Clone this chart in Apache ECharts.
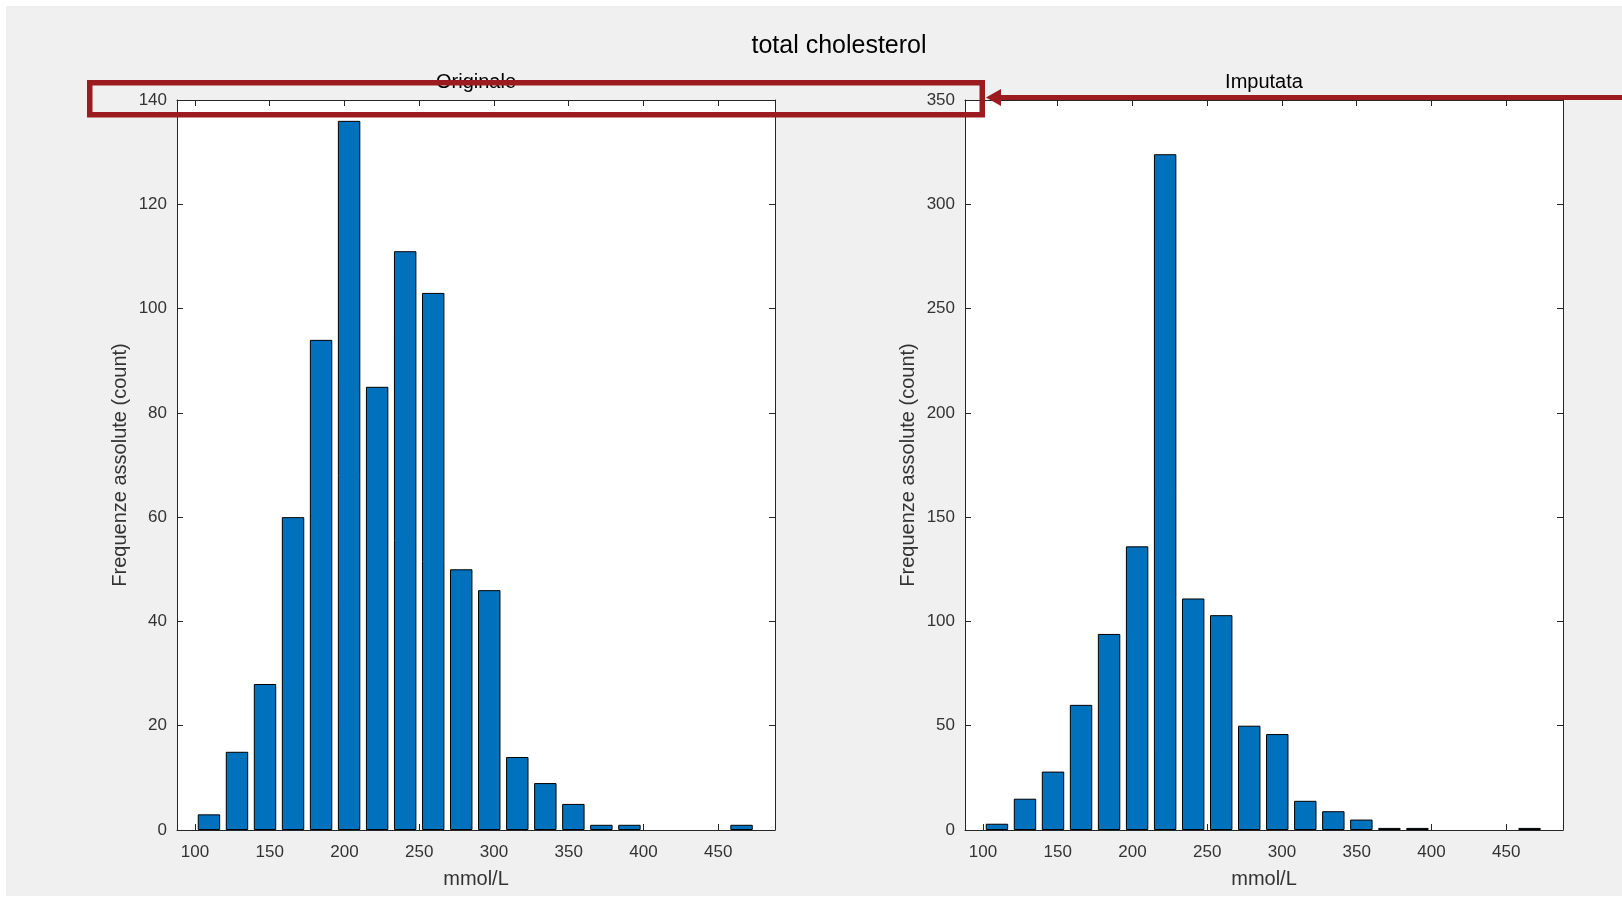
<!DOCTYPE html>
<html><head><meta charset="utf-8">
<script src="https://cdn.jsdelivr.net/npm/echarts@6/dist/echarts.min.js"></script>
<style>html,body{margin:0;padding:0;background:#fff}#c{width:1622px;height:899px}</style>
</head><body><div id="c"></div>
<script>
const binCenters = [109.375,128.125,146.875,165.625,184.375,203.125,221.875,240.625,259.375,278.125,296.875,315.625,334.375,353.125,371.875,390.625,409.375,428.125,446.875,465.625];
const countsOriginale = [3,15,28,60,94,136,85,111,103,50,46,14,9,5,1,1,0,0,0,1];
const countsImputata = [3,15,28,60,94,136,324,111,103,50,46,14,9,5,1,1,0,0,0,1];
const xTicks = [100,150,200,250,300,350,400,450];
const yTicksOriginale = [0,20,40,60,80,100,120,140];
const yTicksImputata = [0,50,100,150,200,250,300,350];
const mainTitle = 'total cholesterol';
const subTitles = ['Originale','Imputata'];
const xName = 'mmol/L';
const yName = 'Frequenze assolute (count)';

const FONT = "'Liberation Sans', Arial, Helvetica, sans-serif";
const AX = '#262626';
const TXT = '#333333';
const grids = [
  {left:177, top:100, width:598, height:730},
  {left:965, top:100, width:598, height:730}
];
const yTickSets = [yTicksOriginale, yTicksImputata];
const seriesCounts = [countsOriginale, countsImputata];

const xAxes = [], yAxes = [], series = [];
grids.forEach((g, i) => {
  const yt = yTickSets[i];
  const yMin = yt[0], yMax = yt[yt.length-1], yInt = yt[1]-yt[0];
  const lineCommon = {show:true, onZero:false, lineStyle:{color:AX, width:1}};
  xAxes.push({
    type:'value', gridIndex:i, min:88, max:488, position:'bottom',
    axisLine:lineCommon,
    axisTick:{show:true, inside:true, length:6, customValues:xTicks, lineStyle:{color:AX}},
    axisLabel:{customValues:xTicks, fontSize:17, color:TXT, margin:14, fontFamily:FONT},
    splitLine:{show:false},
    name:xName, nameLocation:'middle', nameGap:39,
    nameTextStyle:{fontSize:20, color:TXT, fontFamily:FONT}
  });
  xAxes.push({
    type:'value', gridIndex:i, min:88, max:488, position:'top',
    axisLine:lineCommon,
    axisTick:{show:true, inside:true, length:6, customValues:xTicks, lineStyle:{color:AX}},
    axisLabel:{show:false, customValues:xTicks},
    splitLine:{show:false}
  });
  yAxes.push({
    type:'value', gridIndex:i, min:yMin, max:yMax, interval:yInt, position:'left',
    axisLine:lineCommon,
    axisTick:{show:true, inside:true, length:6, lineStyle:{color:AX}},
    axisLabel:{fontSize:17, color:TXT, margin:10, fontFamily:FONT, padding:[3,0,0,0]},
    splitLine:{show:false},
    name:yName, nameLocation:'middle', nameGap:47, nameRotate:90,
    nameTextStyle:{fontSize:20, color:TXT, fontFamily:FONT}
  });
  yAxes.push({
    type:'value', gridIndex:i, min:yMin, max:yMax, interval:yInt, position:'right',
    axisLine:lineCommon,
    axisTick:{show:true, inside:true, length:6, lineStyle:{color:AX}},
    axisLabel:{show:false},
    splitLine:{show:false}
  });
  series.push({
    type:'bar', xAxisIndex:i*2, yAxisIndex:i*2,
    data: binCenters.map((c, k) => {
      const v = seriesCounts[i][k];
      return v === 0 ? {value:[c, v], itemStyle:{borderWidth:0}} : [c, v];
    }),
    barWidth:'80%',
    itemStyle:{color:'#0072BD', borderColor:'#000', borderWidth:1},
    silent:true, animation:false
  });
});

const RED = '#9b1b1e';
const option = {
  backgroundColor:'#f0f0f0',
  animation:false,
  grid: grids.map(g => Object.assign({show:true, backgroundColor:'#fff', borderWidth:0}, g)),
  xAxis:xAxes, yAxis:yAxes, series:series,
  graphic:[
    {type:'rect', shape:{x:0,y:0,width:1622,height:6}, style:{fill:'#fff'}, silent:true},
    {type:'rect', shape:{x:0,y:0,width:6,height:899}, style:{fill:'#fff'}, silent:true},
    {type:'rect', shape:{x:0,y:896,width:1622,height:3}, style:{fill:'#fff'}, silent:true},
    {type:'text', x:839, y:46, style:{text:mainTitle, fontSize:25, fill:'#000', fontFamily:FONT, align:'center', verticalAlign:'middle'}},
    {type:'text', x:476, y:82, style:{text:subTitles[0], fontSize:20, fill:'#000', fontFamily:FONT, align:'center', verticalAlign:'middle'}},
    {type:'text', x:1264, y:82, style:{text:subTitles[1], fontSize:20, fill:'#000', fontFamily:FONT, align:'center', verticalAlign:'middle'}},
    {type:'rect', z:100, shape:{x:89.75,y:82.75,width:892.5,height:32}, style:{fill:null, stroke:RED, lineWidth:5.5}, silent:true},
    {type:'line', z:100, shape:{x1:1622,y1:97.5,x2:998,y2:97.5}, style:{stroke:RED, lineWidth:5}, silent:true},
    {type:'polygon', z:100, shape:{points:[[986,97.5],[1001,89],[1001,106]]}, style:{fill:RED}, silent:true}
  ]
};
const chart = echarts.init(document.getElementById('c'), null, {renderer:'canvas'});
chart.setOption(option);
</script></body></html>
